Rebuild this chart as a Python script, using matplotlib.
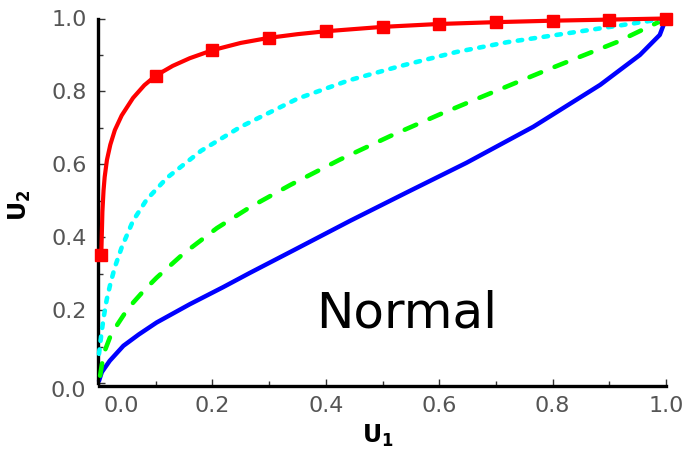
import matplotlib
matplotlib.use('Agg')
import matplotlib.pyplot as plt
from matplotlib.ticker import MultipleLocator
import matplotlib.transforms as mtrans

plt.rcParams['lines.scale_dashes'] = False
plt.rcParams['font.family'] = ['DejaVu Sans']

# ---- data ----
red_u1 = [0.004, 0.006, 0.008, 0.01, 0.014, 0.02, 0.028, 0.04, 0.06, 0.08, 0.1,
          0.13, 0.16, 0.2, 0.25, 0.3, 0.35, 0.4, 0.5, 0.6, 0.7, 0.8, 0.9, 1.0]
red_u2 = [0.35, 0.47, 0.528, 0.565, 0.612, 0.654, 0.694, 0.734, 0.782, 0.817, 0.843,
          0.870, 0.891, 0.913, 0.933, 0.947, 0.957, 0.965, 0.977, 0.985, 0.990, 0.994, 0.997, 1.0]
red_mark_u1 = [0.004, 0.1, 0.2, 0.3, 0.4, 0.5, 0.6, 0.7, 0.8, 0.9, 1.0]
red_mark_u2 = [0.35, 0.843, 0.913, 0.947, 0.965, 0.977, 0.985, 0.990, 0.994, 0.997, 1.0]

cyan_u1 = [0.0, 0.004, 0.008, 0.0135, 0.02, 0.028, 0.04, 0.06, 0.084, 0.12,
           0.18, 0.25, 0.35, 0.44, 0.53, 0.63, 0.72, 0.82, 0.91, 1.0]
cyan_u2 = [0.08, 0.132, 0.178, 0.228, 0.272, 0.318, 0.372, 0.445, 0.503, 0.563,
           0.637, 0.703, 0.78, 0.83, 0.869, 0.908, 0.935, 0.958, 0.979, 1.0]

green_u1 = [0.002, 0.005, 0.0106, 0.02, 0.031, 0.045, 0.0605, 0.08, 0.1017, 0.149,
            0.208, 0.266, 0.337, 0.425, 0.513, 0.601, 0.678, 0.795, 0.913, 1.0]
green_u2 = [0.02, 0.05, 0.09, 0.128, 0.157, 0.19, 0.221, 0.255, 0.289, 0.355,
            0.425, 0.482, 0.543, 0.613, 0.677, 0.737, 0.787, 0.862, 0.935, 1.0]

blue_u1 = [0.0, 0.005, 0.019, 0.043, 0.07, 0.1017, 0.160, 0.219, 0.266, 0.343,
           0.443, 0.543, 0.648, 0.766, 0.884, 0.954, 0.989, 1.0]
blue_u2 = [0.006, 0.03, 0.061, 0.102, 0.133, 0.166, 0.216, 0.263, 0.302, 0.364,
           0.445, 0.523, 0.604, 0.703, 0.818, 0.9, 0.955, 1.0]

x_ticks = [0.0, 0.2, 0.4, 0.6, 0.8, 1.0]
x_ticklabels = ['0.0', '0.2', '0.4', '0.6', '0.8', '1.0']
y_ticks = [0.0, 0.2, 0.4, 0.6, 0.8, 1.0]
y_ticklabels = ['0.0', '0.2', '0.4', '0.6', '0.8', '1.0']
annotation = 'Normal'

# ---- figure ----
W, H = 691, 459
fig = plt.figure(figsize=(W / 100, H / 100), dpi=100)
x0, x1 = 99, 666
y0, y1 = 383, 18.5
ax = fig.add_axes([x0 / W, 1 - y0 / H, (x1 - x0) / W, (y0 - y1) / H])
ax.set_xlim(0, 1)
ax.set_ylim(0, 1)

# curves
ax.plot(blue_u1, blue_u2, color='#0000ff', lw=3.2, solid_capstyle='round',
        solid_joinstyle='round', clip_on=False, zorder=2)
ax.plot(green_u1, green_u2, color='#00ff00', lw=3.3, dashes=(9.0, 10.5),
        dash_capstyle='round', dash_joinstyle='round', clip_on=False, zorder=3)
ax.plot(cyan_u1, cyan_u2, color='#00ffff', lw=3.3, dashes=(3.2, 6.2),
        dash_capstyle='round', dash_joinstyle='round', clip_on=False, zorder=4)
ax.plot(red_u1, red_u2, color='#ff0000', lw=3.0, solid_capstyle='round',
        solid_joinstyle='round', clip_on=False, zorder=5)
ax.plot(red_mark_u1, red_mark_u2, ls='none', marker='s', ms=9, color='#ff0000',
        mec='#ff0000', clip_on=False, zorder=6)

# spines
for s in ('top', 'right'):
    ax.spines[s].set_visible(False)
for s in ('left', 'bottom'):
    ax.spines[s].set_linewidth(2.4)
    ax.spines[s].set_color('black')
ax.spines['bottom'].set_position(('outward', 2))
ax.spines['left'].set_position(('outward', 1))

# ticks
ax.set_xticks(x_ticks)
ax.set_xticklabels(x_ticklabels)
ax.set_yticks(y_ticks)
ax.set_yticklabels(y_ticklabels)
ax.xaxis.set_minor_locator(MultipleLocator(0.1))
ax.yaxis.set_minor_locator(MultipleLocator(0.1))
ax.tick_params(which='major', direction='in', length=5, width=1.0, color='#333333',
               labelsize=16, labelcolor='#555555')
ax.tick_params(which='minor', direction='in', length=3.5, width=1.0, color='#333333')
ax.tick_params(axis='x', which='major', pad=7)
ax.tick_params(axis='y', which='major', pad=8)

# shift the two zero labels like the reference
lx = ax.xaxis.get_major_ticks()[0].label1
lx.set_transform(lx.get_transform() + mtrans.ScaledTranslation(0.22, 0, fig.dpi_scale_trans))
ly = ax.yaxis.get_major_ticks()[0].label1
ly.set_transform(ly.get_transform() + mtrans.ScaledTranslation(0, -0.06, fig.dpi_scale_trans))

# axis labels
fig.text(378 / W, 1 - 443 / H, r'$\mathbf{U_1}$', ha='center', va='baseline', fontsize=17)
fig.text(20 / W, 1 - 205 / H, r'$\mathbf{U_2}$', ha='center', va='center', fontsize=17, rotation=90)

# annotation
ax.text(0.542, 0.152, annotation, ha='center', va='baseline', fontsize=36, color='black')

fig.savefig('out.png', dpi=100)
